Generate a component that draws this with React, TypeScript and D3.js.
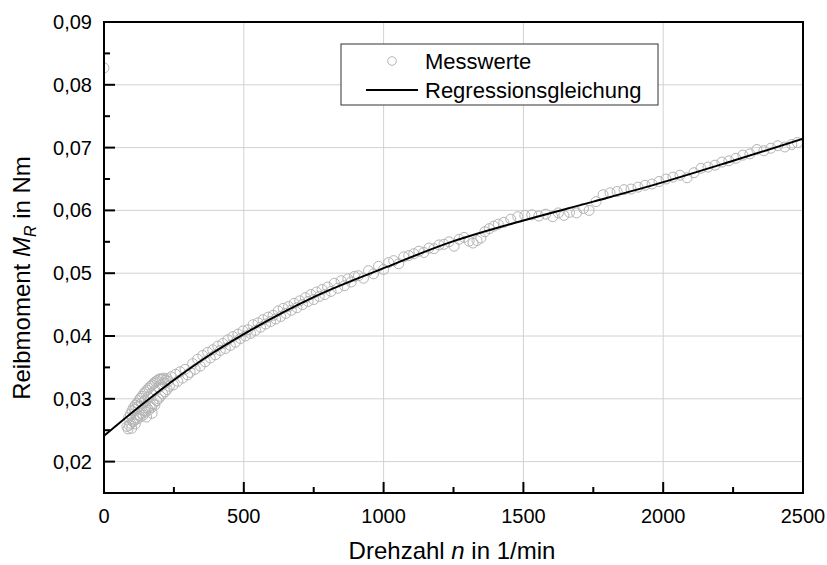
import React from "react";
import * as d3 from "d3";

// ---- Data ----
const xTickValues = [0, 500, 1000, 1500, 2000, 2500];
const xMinorTicks = [250, 750, 1250, 1750, 2250];
const yTickValues = [0.02, 0.03, 0.04, 0.05, 0.06, 0.07, 0.08, 0.09];
const yMinorTicks = [0.025, 0.035, 0.045, 0.055, 0.065, 0.075, 0.085];

// Regression curve (n in 1/min, M_R in Nm)
const regressionN = [0, 125, 250, 375, 500, 750, 1000, 1250, 1500, 1750, 2000, 2250, 2500];
const regressionM = [0.0241, 0.0287, 0.033, 0.0369, 0.0403, 0.0462, 0.0508, 0.0551, 0.0584, 0.0614, 0.0645, 0.0679, 0.0714];

// Measured values (Messwerte), [n, M_R]
const measuredStart: [number, number][] = [[0, 0.0827]];
const measuredClusterLow: [number, number][] = [
  [82, 0.0256], [86, 0.0252], [90, 0.0258], [95, 0.0261], [99, 0.0253], [104, 0.0263], [108, 0.0266],
  [112, 0.026], [116, 0.027], [120, 0.0268], [125, 0.0273], [130, 0.0271], [135, 0.0277], [140, 0.0274],
  [145, 0.0281], [150, 0.0279], [152, 0.0271], [155, 0.0285], [160, 0.0282], [165, 0.0288], [170, 0.0286],
  [172, 0.0277], [176, 0.0292], [182, 0.029], [188, 0.0297], [195, 0.03], [202, 0.0304], [210, 0.0308],
  [218, 0.0311], [226, 0.0315], [234, 0.032],
];
const measuredClusterHigh: [number, number][] = [
  [88, 0.027], [94, 0.0275], [100, 0.0281], [106, 0.0286], [112, 0.029], [118, 0.0293], [124, 0.0297],
  [130, 0.0301], [136, 0.0304], [142, 0.0308], [148, 0.0311], [154, 0.0314], [160, 0.0317], [166, 0.032],
  [172, 0.0322], [178, 0.0325], [184, 0.0327], [190, 0.0329], [196, 0.0331], [202, 0.0332], [208, 0.0331],
  [214, 0.0333], [220, 0.033], [226, 0.0332],
  [110, 0.0283], [122, 0.0288], [134, 0.0293], [146, 0.0297], [158, 0.0303], [170, 0.0309], [182, 0.0314],
  [194, 0.0318], [206, 0.0322], [218, 0.0325], [230, 0.0328],
];
const measuredMid: [number, number][] = [
  [240, 0.0335], [248, 0.0322], [256, 0.0339], [264, 0.0328], [272, 0.0343], [281, 0.0333], [290, 0.0347],
  [299, 0.0338], [308, 0.0342], [317, 0.0356], [326, 0.0347], [335, 0.0363], [344, 0.0352], [353, 0.0369],
  [362, 0.0359], [371, 0.0374], [380, 0.0365], [389, 0.0378], [398, 0.037], [407, 0.0384], [416, 0.0377],
  [425, 0.0388], [434, 0.038], [443, 0.0394], [452, 0.0385], [461, 0.0399], [470, 0.039], [479, 0.0403],
  [488, 0.0396], [497, 0.0408], [506, 0.04], [515, 0.041], [524, 0.0404], [533, 0.0418], [542, 0.0409],
  [551, 0.0421], [560, 0.0414], [569, 0.0426], [578, 0.0419], [587, 0.043], [596, 0.0423], [605, 0.0433],
  [614, 0.0427], [623, 0.044], [632, 0.0431], [641, 0.0444], [650, 0.0436], [660, 0.0447], [670, 0.0441],
  [680, 0.0452], [690, 0.0445], [700, 0.0456], [710, 0.045], [720, 0.0461], [730, 0.0455], [740, 0.0466],
  [750, 0.0458], [760, 0.047], [770, 0.0463], [780, 0.0474], [790, 0.0466], [800, 0.0478], [812, 0.0471],
  [824, 0.0484], [836, 0.0476], [848, 0.0488], [860, 0.048], [872, 0.0491], [884, 0.0486], [896, 0.0495],
  [910, 0.0496], [928, 0.0492], [946, 0.0504], [964, 0.0499], [982, 0.0511], [1000, 0.0506], [1018, 0.0517],
  [1036, 0.052], [1054, 0.0515], [1072, 0.0526], [1090, 0.0528], [1108, 0.0531], [1126, 0.0535],
  [1144, 0.0533], [1162, 0.054], [1180, 0.0539], [1198, 0.0545], [1216, 0.0546], [1234, 0.055],
  [1252, 0.0543], [1270, 0.0554], [1288, 0.0557], [1306, 0.0551], [1320, 0.0548], [1334, 0.0552],
  [1348, 0.0556], [1362, 0.0566], [1378, 0.0571], [1394, 0.0575], [1410, 0.0578],
];
const measuredHigh: [number, number][] = [
  [1430, 0.0581], [1455, 0.0586], [1480, 0.059], [1505, 0.0592], [1530, 0.0593], [1555, 0.0591],
  [1580, 0.0594], [1605, 0.059], [1625, 0.0596], [1645, 0.0592], [1665, 0.0597], [1690, 0.0596],
  [1715, 0.0603], [1735, 0.06], [1760, 0.0614], [1785, 0.0625], [1810, 0.0628], [1835, 0.063],
  [1860, 0.0633], [1885, 0.0634], [1910, 0.0637], [1935, 0.064], [1960, 0.0642], [1985, 0.0646],
  [2010, 0.065], [2035, 0.0653], [2060, 0.0656], [2085, 0.0652], [2110, 0.066], [2135, 0.0667],
  [2160, 0.0669], [2185, 0.0672], [2210, 0.0677], [2235, 0.0679], [2260, 0.0683], [2285, 0.0688],
  [2310, 0.069], [2335, 0.0697], [2360, 0.0695], [2385, 0.0699], [2410, 0.0703], [2435, 0.0701],
  [2460, 0.0705], [2480, 0.0708],
];

const legendLabels = ["Messwerte", "Regressionsgleichung"];

const FONT = "'Liberation Sans', Arial, sans-serif";

export default function App() {
  const W = 827;
  const H = 565;
  const left = 104, right = 803, top = 22, bottom = 493;
  const x = d3.scaleLinear().domain([0, 2500]).range([left, right]);
  const y = d3.scaleLinear().domain([0.015, 0.09]).range([bottom, top]);

  const fmtY = (v: number) => d3.format(".2f")(v).replace(".", ",");

  const regData = regressionN.map((n, i) => [n, regressionM[i]] as [number, number]);
  const line = d3
    .line<[number, number]>()
    .x((d) => x(d[0]))
    .y((d) => y(d[1]))
    .curve(d3.curveMonotoneX);

  const measured = [
    ...measuredStart,
    ...measuredClusterLow,
    ...measuredClusterHigh,
    ...measuredMid,
    ...measuredHigh,
  ];

  const gridColor = "#d2d2d2";
  const markerColor = "#b4b4b4";

  return (
    <svg
      width={W}
      height={H}
      style={{ position: "absolute", left: 0, top: 0, background: "#fff" }}
      fontFamily={FONT}
    >
      <defs>
        <clipPath id="plotClip">
          <rect x={left} y={top} width={right - left} height={bottom - top} />
        </clipPath>
      </defs>
      <rect x={0} y={0} width={W} height={H} fill="#fff" />

      {/* grid */}
      <g stroke={gridColor} strokeWidth={1}>
        {xTickValues
          .filter((v) => v > 0 && v < 2500)
          .map((v) => (
            <line key={"gx" + v} x1={x(v)} x2={x(v)} y1={top} y2={bottom} />
          ))}
        {yTickValues
          .filter((v) => v < 0.09)
          .map((v) => (
            <line key={"gy" + v} x1={left} x2={right} y1={y(v)} y2={y(v)} />
          ))}
      </g>

      {/* measured points */}
      <g clipPath="url(#plotClip)" fill="none" stroke={markerColor} strokeWidth={1}>
        {measured.map((d, i) => (
          <circle key={"m" + i} cx={x(d[0])} cy={y(d[1])} r={5} />
        ))}
      </g>

      {/* regression */}
      <path
        d={line(regData) || ""}
        fill="none"
        stroke="#000"
        strokeWidth={2}
        clipPath="url(#plotClip)"
      />

      {/* frame */}
      <rect
        x={left}
        y={top}
        width={right - left}
        height={bottom - top}
        fill="none"
        stroke="#000"
        strokeWidth={2}
      />

      {/* ticks */}
      <g stroke="#000" strokeWidth={2}>
        {xTickValues.map((v) => (
          <line key={"tx" + v} x1={x(v)} x2={x(v)} y1={bottom} y2={bottom - 11} />
        ))}
        {xMinorTicks.map((v) => (
          <line key={"mx" + v} x1={x(v)} x2={x(v)} y1={bottom} y2={bottom - 6} />
        ))}
        {yTickValues.map((v) => (
          <line key={"ty" + v} x1={left} x2={left + 11} y1={y(v)} y2={y(v)} />
        ))}
        {yMinorTicks.map((v) => (
          <line key={"my" + v} x1={left} x2={left + 6} y1={y(v)} y2={y(v)} />
        ))}
      </g>

      {/* tick labels */}
      <g fontSize={20} fill="#000">
        {xTickValues.map((v) => (
          <text key={"lx" + v} x={x(v)} y={523} textAnchor="middle">
            {String(v)}
          </text>
        ))}
        {yTickValues.map((v) => (
          <text key={"ly" + v} x={92} y={y(v) + 7} textAnchor="end">
            {fmtY(v)}
          </text>
        ))}
      </g>

      {/* axis titles */}
      <text x={452} y={559} fontSize={24} textAnchor="middle" fill="#000">
        Drehzahl <tspan fontStyle="italic">n</tspan> in 1/min
      </text>
      <text
        transform={`translate(30, 278) rotate(-90)`}
        fontSize={24}
        textAnchor="middle"
        fill="#000"
      >
        Reibmoment <tspan fontStyle="italic">M</tspan>
        <tspan fontStyle="italic" fontSize={16} dy={6}>R</tspan>
        <tspan dy={-6}> in Nm</tspan>
      </text>

      {/* legend */}
      <g>
        <rect x={341} y={44} width={317} height={61} fill="#fff" stroke="#333" strokeWidth={1} />
        <circle cx={392} cy={61} r={4.3} fill="none" stroke={markerColor} strokeWidth={1} />
        <line x1={366} x2={418} y1={90} y2={90} stroke="#000" strokeWidth={2} />
        <text x={425} y={68.5} fontSize={22} fill="#000">
          {legendLabels[0]}
        </text>
        <text x={425} y={97.5} fontSize={22} fill="#000">
          {legendLabels[1]}
        </text>
      </g>
    </svg>
  );
}
